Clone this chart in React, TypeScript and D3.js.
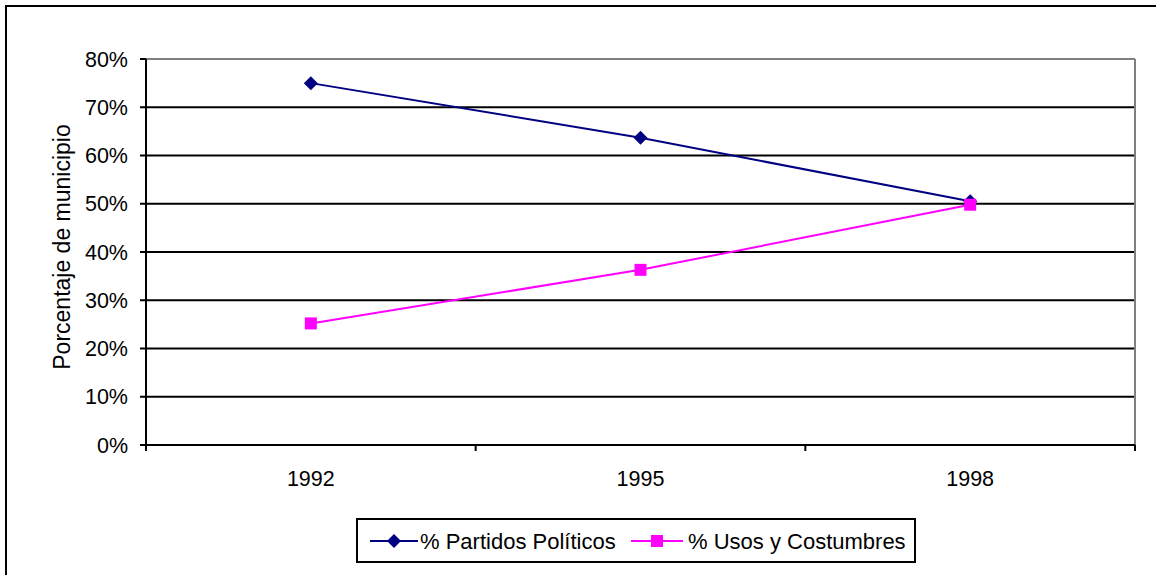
import React from 'react';
import * as d3 from 'd3';

const years = ['1992', '1995', '1998'];
const partidos = [75, 63.7, 50.5];
const usos = [25.2, 36.3, 49.8];
const yTicks = [0, 10, 20, 30, 40, 50, 60, 70, 80];
const seriesNames = ['% Partidos Políticos', '% Usos y Costumbres'];
const yTitle = 'Porcentaje de municipio';

const W = 1156;
const H = 575;
const plot = { left: 146, right: 1135, top: 59, bottom: 445 };
const FONT = 'Liberation Sans, Arial, sans-serif';
const NAVY = '#000080';
const MAGENTA = '#FF00FF';
const FS = 21.5;

const App = () => {
  const x = d3.scaleBand().domain(years).range([plot.left, plot.right]);
  const y = d3.scaleLinear().domain([0, 80]).range([plot.bottom, plot.top]);
  const cx = (d: string) => (x(d) as number) + x.bandwidth() / 2;

  const line = d3.line<number>()
    .x((_, i) => cx(years[i]))
    .y(d => y(d));

  const diamond = (px: number, py: number, r = 7) =>
    `M${px},${py - r}L${px + r},${py}L${px},${py + r}L${px - r},${py}Z`;

  const boundaries = [...years.map(d => x(d) as number), plot.right];

  return (
    <svg width={W} height={H} style={{ position: 'absolute', left: 0, top: 0, background: '#fff' }}
      fontFamily={FONT}>
      <rect x={6} y={6} width={W + 10} height={H + 10} fill="none" stroke="#000" strokeWidth={2} />

      {/* gridlines */}
      {yTicks.filter(t => t > 0 && t < 80).map(t => (
        <line key={t} x1={plot.left} x2={plot.right} y1={y(t)} y2={y(t)} stroke="#000" strokeWidth={2} />
      ))}
      {/* plot border top/right */}
      <line x1={plot.left} x2={plot.right} y1={plot.top} y2={plot.top} stroke="#808080" strokeWidth={2} />
      <line x1={plot.right} x2={plot.right} y1={plot.top} y2={plot.bottom} stroke="#808080" strokeWidth={2} />

      {/* axes */}
      <line x1={plot.left} x2={plot.left} y1={plot.top} y2={plot.bottom + 6} stroke="#000" strokeWidth={2} />
      <line x1={plot.left - 6} x2={plot.right} y1={plot.bottom} y2={plot.bottom} stroke="#000" strokeWidth={2} />
      {yTicks.map(t => (
        <g key={t}>
          <line x1={plot.left - 6} x2={plot.left} y1={y(t)} y2={y(t)} stroke="#000" strokeWidth={2} />
          <text x={128} y={y(t)} dy="0.36em" textAnchor="end" fontSize={FS}>{`${t}%`}</text>
        </g>
      ))}
      {boundaries.map((b, i) => (
        <line key={i} x1={b} x2={b} y1={plot.bottom} y2={plot.bottom + 6} stroke="#000" strokeWidth={2} />
      ))}
      {years.map(d => (
        <text key={d} x={cx(d)} y={478} dy="0.36em" textAnchor="middle" fontSize={FS}>{d}</text>
      ))}

      <text transform={`translate(62,247) rotate(-90)`} textAnchor="middle"
        dy="0.36em" fontSize={23}>{yTitle}</text>

      {/* series */}
      <path d={line(partidos) as string} fill="none" stroke={NAVY} strokeWidth={2} />
      {partidos.map((v, i) => (
        <path key={i} d={diamond(cx(years[i]), y(v))} fill={NAVY} />
      ))}
      <path d={line(usos) as string} fill="none" stroke={MAGENTA} strokeWidth={2} />
      {usos.map((v, i) => (
        <rect key={i} x={cx(years[i]) - 6} y={y(v) - 6} width={12} height={12} fill={MAGENTA} />
      ))}

      {/* legend */}
      <rect x={357} y={519} width={558} height={43} fill="#fff" stroke="#000" strokeWidth={2} />
      <line x1={370} x2={418} y1={541} y2={541} stroke={NAVY} strokeWidth={2} />
      <path d={diamond(394, 541)} fill={NAVY} />
      <text x={420} y={541} dy="0.36em" fontSize={22}>{seriesNames[0]}</text>
      <line x1={631} x2={683} y1={541} y2={541} stroke={MAGENTA} strokeWidth={2} />
      <rect x={651} y={535} width={12} height={12} fill={MAGENTA} />
      <text x={688} y={541} dy="0.36em" fontSize={22}>{seriesNames[1]}</text>
    </svg>
  );
};

export default App;
